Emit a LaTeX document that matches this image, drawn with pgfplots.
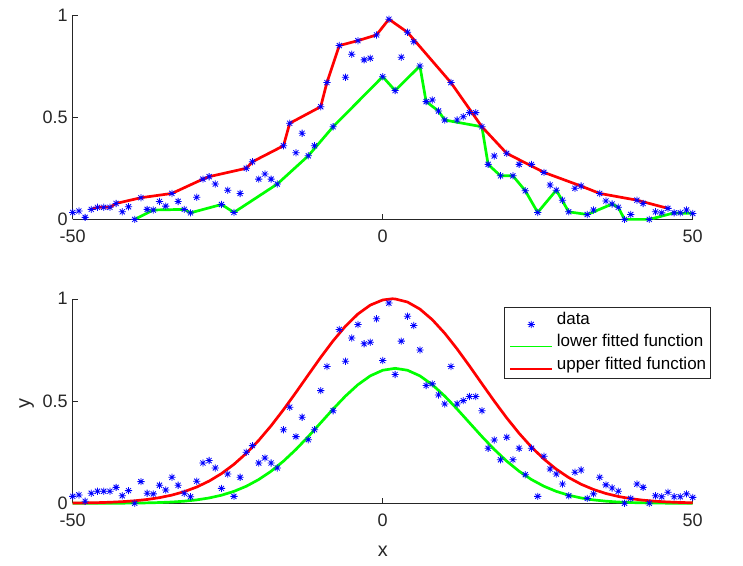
\documentclass[border=0pt]{standalone}
\usepackage{pgfplots}
\pgfplotsset{compat=1.18}
\usepackage{pgfplotstable}
\usepackage{fontspec}
\setmainfont{Liberation Sans}
\definecolor{axgray}{rgb}{0.15,0.15,0.15}
\pgfdeclareplotmark{octstar}{%
  \pgfpathmoveto{\pgfqpoint{-\pgfplotmarksize}{0pt}}\pgfpathlineto{\pgfqpoint{\pgfplotmarksize}{0pt}}%
  \pgfpathmoveto{\pgfqpoint{0pt}{-\pgfplotmarksize}}\pgfpathlineto{\pgfqpoint{0pt}{\pgfplotmarksize}}%
  \pgfpathmoveto{\pgfqpoint{-0.7071\pgfplotmarksize}{-0.7071\pgfplotmarksize}}\pgfpathlineto{\pgfqpoint{0.7071\pgfplotmarksize}{0.7071\pgfplotmarksize}}%
  \pgfpathmoveto{\pgfqpoint{-0.7071\pgfplotmarksize}{0.7071\pgfplotmarksize}}\pgfpathlineto{\pgfqpoint{0.7071\pgfplotmarksize}{-0.7071\pgfplotmarksize}}%
  \pgfusepathqstroke}
\pgfplotstableread{
x y
-50 0.034
-49 0.041
-48 0.010
-47 0.049
-46 0.059
-45 0.059
-44 0.059
-43 0.078
-42 0.037
-41 0.062
-40 0.000
-39 0.106
-38 0.049
-37 0.046
-36 0.088
-35 0.065
-34 0.127
-33 0.088
-32 0.049
-31 0.032
-30 0.108
-29 0.197
-28 0.209
-27 0.173
-26 0.073
-25 0.143
-24 0.034
-23 0.127
-22 0.250
-21 0.282
-20 0.197
-19 0.222
-18 0.197
-17 0.173
-16 0.360
-15 0.470
-14 0.326
-13 0.421
-12 0.311
-11 0.360
-10 0.551
-9 0.669
-8 0.453
-7 0.850
-6 0.695
-5 0.808
-4 0.874
-3 0.780
-2 0.788
-1 0.902
0 0.698
1 0.979
2 0.630
3 0.793
4 0.915
5 0.869
6 0.750
7 0.576
8 0.584
9 0.530
10 0.486
11 0.669
12 0.486
13 0.502
14 0.522
15 0.522
16 0.453
17 0.269
18 0.310
19 0.213
20 0.323
21 0.213
22 0.269
23 0.140
24 0.269
25 0.034
26 0.230
27 0.168
28 0.143
29 0.094
30 0.037
31 0.152
32 0.163
33 0.024
34 0.046
35 0.127
36 0.090
37 0.075
38 0.059
39 0.000
40 0.024
41 0.094
42 0.078
43 0.000
44 0.037
45 0.032
46 0.054
47 0.032
48 0.032
49 0.046
50 0.029
}\datatable
\pgfplotstableread{
x y
-47 0.049
-46 0.059
-44 0.059
-43 0.078
-39 0.106
-34 0.127
-29 0.197
-28 0.209
-22 0.250
-21 0.282
-16 0.360
-15 0.470
-10 0.551
-9 0.669
-7 0.850
-4 0.874
-1 0.902
1 0.979
4 0.915
11 0.669
16 0.453
20 0.323
26 0.230
32 0.163
35 0.127
41 0.094
46 0.054
}\upperenv
\pgfplotstableread{
x y
-40 0.000
-37 0.046
-32 0.049
-31 0.032
-26 0.073
-24 0.034
-17 0.173
-12 0.311
-8 0.453
0 0.698
2 0.630
6 0.750
7 0.576
9 0.530
10 0.486
16 0.453
17 0.269
19 0.213
21 0.213
23 0.140
25 0.034
28 0.143
30 0.037
33 0.024
37 0.075
38 0.059
39 0.000
43 0.000
47 0.032
50 0.029
}\lowerenv
\pgfplotstableread{
x y
-50 0.00115
-48 0.00193
-46 0.00316
-44 0.00509
-42 0.00801
-40 0.01235
-38 0.01868
-36 0.02767
-34 0.04015
-32 0.05708
-30 0.07957
-28 0.1086
-26 0.1453
-24 0.1904
-22 0.2445
-20 0.3076
-18 0.3791
-16 0.4579
-14 0.5418
-12 0.6282
-10 0.7137
-8 0.7944
-6 0.8663
-4 0.9257
-2 0.9692
0 0.9943
1.5 1.0000
2 0.9994
4 0.9842
6 0.9497
8 0.8978
10 0.8317
12 0.7548
14 0.6713
16 0.5849
18 0.4993
20 0.4177
22 0.3423
24 0.2749
26 0.2163
28 0.1667
30 0.1259
32 0.0932
34 0.0676
36 0.0480
38 0.0334
40 0.0228
42 0.0152
44 0.00997
46 0.00640
48 0.00403
50 0.00248
}\upperfit
\pgfplotstableread{
x y
-50 0.00004
-46 0.00017
-42 0.00063
-40 0.00117
-38 0.00211
-36 0.0037
-34 0.00628
-32 0.0104
-30 0.0167
-28 0.0261
-26 0.0395
-24 0.0583
-22 0.0834
-20 0.1161
-18 0.1569
-16 0.2062
-14 0.2632
-12 0.3265
-10 0.3936
-8 0.4609
-6 0.5245
-4 0.5800
-2 0.6232
0 0.6506
2 0.6600
4 0.6506
6 0.6232
8 0.5800
10 0.5245
12 0.4609
14 0.3936
16 0.3265
18 0.2632
20 0.2062
22 0.1569
24 0.1161
26 0.0834
28 0.0583
30 0.0395
32 0.0261
34 0.0167
36 0.0104
38 0.00628
40 0.0037
42 0.00211
44 0.00117
46 0.00063
48 0.00034
50 0.00017
}\lowerfit
\pgfplotsset{
  octax/.style={
    scale only axis, width=620pt, height=204.5pt,
    anchor=south west,
    xmin=-50, xmax=50, ymin=0, ymax=1,
    axis x line*=bottom, axis y line*=left,
    axis line style={color=axgray, line width=0.6pt},
    xtick={-50,0,50}, ytick={0,0.5,1},
    tick align=inside, major tick length=5pt,
    tick style={color=axgray, line width=0.6pt},
    clip=false,
    /pgf/number format/assume math mode=true,
    tick label style={font=\fontsize{18}{21}\selectfont, text=axgray},
    xticklabel style={yshift=-7pt},
    yticklabel style={xshift=-1.5pt},
    label style={font=\fontsize{19.8}{23}\selectfont, text=axgray},
  },
  datastyle/.style={only marks, mark=octstar, mark size=3.6pt, color=blue, mark options={line width=0.8pt}},
  upstyle/.style={color=red, line width=2.7pt, no marks, line join=round},
  lowstyle/.style={color=green, line width=2.7pt, no marks, line join=round},
}
\begin{document}
\begin{tikzpicture}[x=1pt,y=1pt]
\useasboundingbox (0,0) rectangle (743,565);
\begin{axis}[octax, at={(72.7pt,345.6pt)}]
\addplot[lowstyle] table[x=x,y=y] {\lowerenv};
\addplot[upstyle] table[x=x,y=y] {\upperenv};
\addplot[datastyle] table[x=x,y=y] {\datatable};
\end{axis}
\begin{axis}[octax, at={(72.7pt,61.7pt)},
  xlabel={x}, ylabel={y},
  xlabel style={at={(axis description cs:0.5,-0.236)}, anchor=center},
  ylabel style={at={(axis description cs:-0.0742,0.49)}, anchor=center},
  legend style={at={(rel axis cs:1.0295,0.959)}, anchor=north east,
    draw=axgray, line width=0.6pt, fill=white,
    font=\fontsize{17}{20}\selectfont, text=black,
    inner xsep=4.5pt, inner ysep=2pt, row sep=0pt, column sep=3.4pt,
    nodes={inner xsep=0pt, inner ysep=0pt, text height=15pt, text depth=7.3pt, anchor=base west}},
  legend cell align=left,
  legend image code/.code={\draw[mark repeat=2,mark phase=2,#1] plot coordinates {(0pt,0pt) (20.85pt,0pt) (41.7pt,0pt)};},
]
\addlegendimage{datastyle}
\addlegendentry{data}
\addlegendimage{color=green, line width=0.9pt}
\addlegendentry{lower fitted function}
\addlegendimage{upstyle}
\addlegendentry{upper fitted function}
\addplot[lowstyle, forget plot] table[x=x,y=y] {\lowerfit};
\addplot[upstyle, forget plot] table[x=x,y=y] {\upperfit};
\addplot[datastyle, forget plot] table[x=x,y=y] {\datatable};
\end{axis}
\end{tikzpicture}
\end{document}
